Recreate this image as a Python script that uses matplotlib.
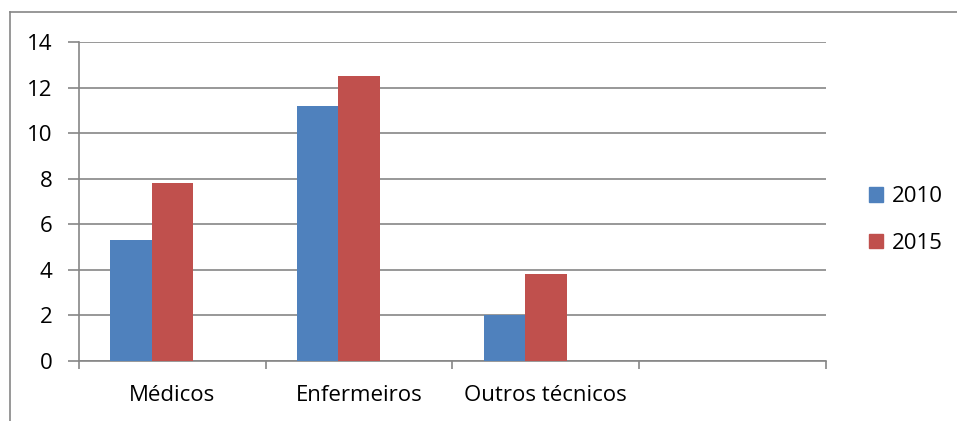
import matplotlib
matplotlib.use('Agg')
import matplotlib.pyplot as plt
from matplotlib.lines import Line2D
from matplotlib.patches import Patch
import numpy as np

# Data
categories = ['Médicos', 'Enfermeiros', 'Outros técnicos', '']
vals_2010 = [5.3, 11.2, 2.0, 0]
vals_2015 = [7.8, 12.5, 3.8, 0]
series_names = ['2010', '2015']
y_ticks = [0, 2, 4, 6, 8, 10, 12, 14]

blue = '#4F81BD'
red = '#C0504D'
grid_c = '#868686'

plt.rcParams['font.family'] = ['Open Sans', 'DejaVu Sans']

fig = plt.figure(figsize=(9.57, 4.21), dpi=100)
ax = fig.add_axes([79/957, 1 - 361/421, (826 - 79)/957, (361 - 42)/421])

x = np.arange(len(categories))
w = 1 / 4.5  # Excel gap width 150%, three series slots
ax.bar(x - w, vals_2010, width=w, color=blue, zorder=3)
ax.bar(x, vals_2015, width=w, color=red, zorder=3)

ax.set_xlim(-0.5, len(categories) - 0.5)
ax.set_ylim(0, 14)
ax.set_yticks(y_ticks)
ax.yaxis.grid(True, color=grid_c, linewidth=1.2)
ax.set_axisbelow(True)

for s in ['top', 'right']:
    ax.spines[s].set_visible(False)
for s in ['left', 'bottom']:
    ax.spines[s].set_color(grid_c)
    ax.spines[s].set_linewidth(1.2)

ax.tick_params(axis='y', length=8, width=1.2, color=grid_c, labelsize=16, pad=11)
# tick marks at category boundaries, labels at centres
ax.set_xticks(np.arange(-0.5, len(categories)), minor=False)
ax.set_xticklabels([])
ax.set_xticks(x, minor=True)
ax.set_xticklabels(categories, minor=True)
ax.tick_params(axis='x', which='major', length=6, width=1.2, color=grid_c, direction='out')
ax.tick_params(axis='x', which='minor', length=0, labelsize=16, pad=17)

handles = [Patch(color=blue), Patch(color=red)]
fig.legend(handles, series_names, loc='center left', bbox_to_anchor=(849/957, 1 - 220/421),
           frameon=False, fontsize=16, handlelength=0.65, handleheight=0.65,
           handletextpad=0.4, labelspacing=1.15)

# outer chart border (left and top edges visible)
fig.add_artist(Line2D([10/957, 10/957], [0, 1 - 12/421], color=grid_c, linewidth=1.2,
                      transform=fig.transFigure))
fig.add_artist(Line2D([10/957, 1], [1 - 12/421, 1 - 12/421], color=grid_c, linewidth=1.2,
                      transform=fig.transFigure))

fig.savefig('out.png', dpi=100)
